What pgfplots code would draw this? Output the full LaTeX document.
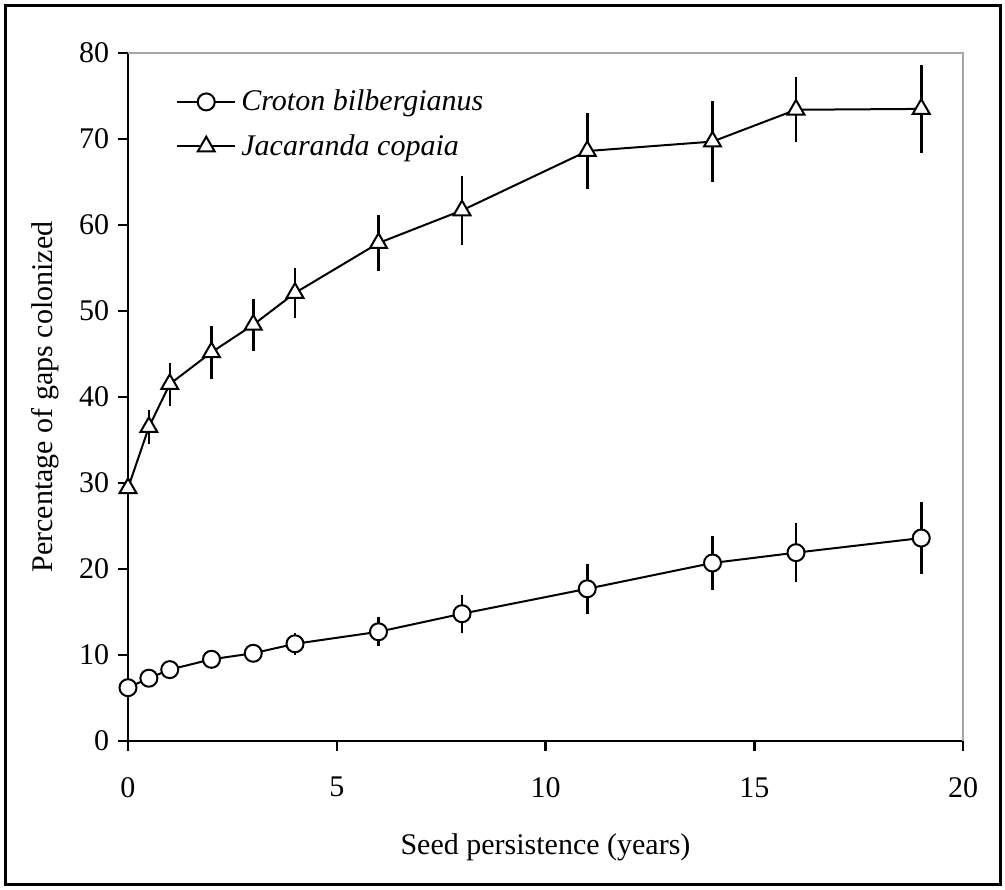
\documentclass[border=0pt]{standalone}
\usepackage{fontspec}
\setmainfont{Liberation Serif}
\usepackage{pgfplots}
\pgfplotsset{compat=1.18}
\begin{document}
\begin{tikzpicture}
\begin{axis}[
  name=ax,
  set layers,
  width=334pt, height=275.2pt, scale only axis,
  xmin=0, xmax=20, ymin=0, ymax=80,
  xtick={0,5,...,20}, ytick={0,10,...,80},
  axis lines*=left,
  axis line style={line width=1pt, -},
  tick align=outside,
  major tick length=4pt,
  tick style={line width=1pt, black},
  font=\fontsize{12}{14}\selectfont,
  /pgf/number format/assume math mode=true,
  xticklabel style={yshift=-7pt},
  xlabel={Seed persistence (years)},
  ylabel={Percentage of gaps colonized},
  every axis x label/.style={at={(axis description cs:0.5,-0.155)}, anchor=center},
  every axis y label/.style={at={(axis description cs:-0.0994,0.5)}, anchor=center, rotate=90},
  legend style={draw=none, fill=none, at={(axis description cs:0.048,0.962)}, anchor=north west,
    row sep=4pt, font=\itshape\fontsize{12}{14}\selectfont},
  legend cell align=left,
  legend image code/.code={\draw[mark repeat=2,mark phase=2] plot coordinates {(0cm,0cm) (0.41cm,0cm) (0.82cm,0cm)};},
  clip=false,
]
\draw[gray!70, line width=0.9pt] (rel axis cs:0,1) -- (rel axis cs:1,1) -- (rel axis cs:1,0);

% error bars on the background layer, so the white markers cover them
\addplot[on layer=axis background, draw=none, mark=none, forget plot,
  error bars/.cd, y dir=both, y explicit, error mark=none,
  error bar style={line width=1pt, black}]
  coordinates {
  (0,6.2) +- (0,0.5)
  (0.5,7.3) +- (0,0.6)
  (1,8.3) +- (0,0.7)
  (2,9.5) +- (0,1.0)
  (3,10.2) +- (0,1.0)
  (4,11.3) +- (0,1.3)
  (6,12.7) +- (0,1.7)
  (8,14.8) +- (0,2.2)
  (11,17.7) +- (0,2.9)
  (14,20.7) +- (0,3.1)
  (16,21.9) +- (0,3.4)
  (19,23.6) +- (0,4.2)
  };
\addplot[on layer=axis background, draw=none, mark=none, forget plot,
  error bars/.cd, y dir=both, y explicit, error mark=none,
  error bar style={line width=1pt, black}]
  coordinates {
  (0,29.4) +- (0,0)
  (0.5,36.5) +- (0,2.0)
  (1,41.5) +- (0,2.5)
  (2,45.2) +- (0,3.1)
  (3,48.4) +- (0,3.0)
  (4,52.1) +- (0,2.9)
  (6,57.9) +- (0,3.3)
  (8,61.7) +- (0,4.0)
  (11,68.6) +- (0,4.4)
  (14,69.7) +- (0,4.7)
  (16,73.4) +- (0,3.8)
  (19,73.5) +- (0,5.1)
  };

% Croton bilbergianus
\addplot[black, line width=0.8pt, mark=*, mark size=3.4pt,
  mark options={fill=white, draw=black, solid}]
  coordinates {
  (0,6.2) (0.5,7.3) (1,8.3) (2,9.5) (3,10.2) (4,11.3)
  (6,12.7) (8,14.8) (11,17.7) (14,20.7) (16,21.9) (19,23.6)
  };
\addlegendentry{Croton bilbergianus}

% Jacaranda copaia
\addplot[black, line width=0.8pt, mark=triangle*, mark size=3.9pt,
  mark options={fill=white, draw=black, solid}]
  coordinates {
  (0,29.4) (0.5,36.5) (1,41.5) (2,45.2) (3,48.4) (4,52.1)
  (6,57.9) (8,61.7) (11,68.6) (14,69.7) (16,73.4) (19,73.5)
  };
\addlegendentry{Jacaranda copaia}
\end{axis}
\draw[line width=1.2pt] ([shift={(-48.8pt,-57.6pt)}]ax.south west) rectangle ([shift={(14.8pt,19.2pt)}]ax.north east);
\path ([shift={(-51.2pt,-59.6pt)}]ax.south west) rectangle ([shift={(16.8pt,21.2pt)}]ax.north east);
\end{tikzpicture}
\end{document}
